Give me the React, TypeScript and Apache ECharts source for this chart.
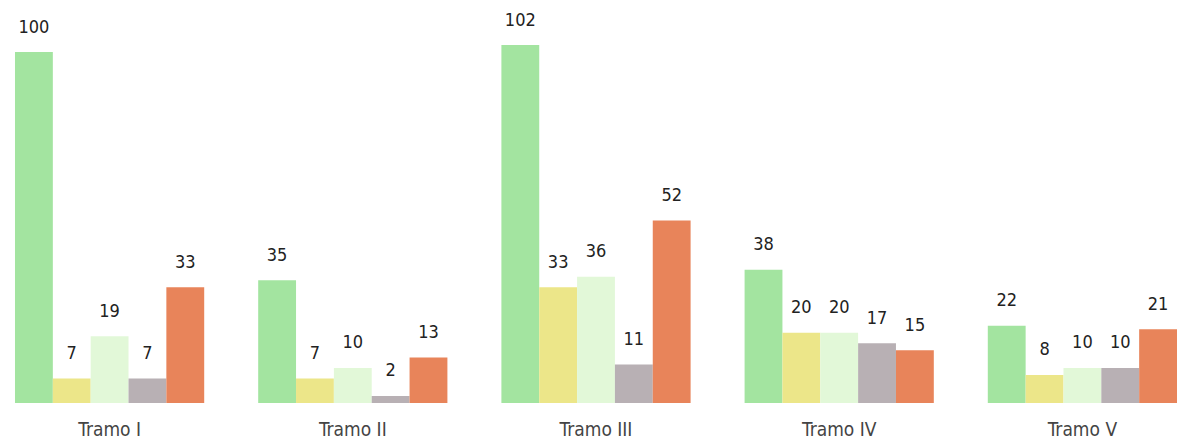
import React, { useEffect, useRef } from "react";
import * as echarts from "echarts";

const categories = ["Tramo I", "Tramo II", "Tramo III", "Tramo IV", "Tramo V"];
const seriesA = [100, 35, 102, 38, 22];
const seriesB = [7, 7, 33, 20, 8];
const seriesC = [19, 10, 36, 20, 10];
const seriesD = [7, 2, 11, 17, 10];
const seriesE = [33, 13, 52, 15, 21];
const colors = ["#a3e4a0", "#ece689", "#e2f8d8", "#b8b0b4", "#e8845a"];
const FONT = "'Liberation Sans Narrow', 'DejaVu Sans Condensed', 'DejaVu Sans', sans-serif";

export default function App() {
  const ref = useRef<HTMLDivElement>(null);
  useEffect(() => {
    if (!ref.current) return;
    const chart = echarts.init(ref.current, null, { renderer: "svg" });
    const all = [seriesA, seriesB, seriesC, seriesD, seriesE];
    chart.setOption({
      animation: false,
      grid: { left: 0, right: 0, top: 17, bottom: 40, containLabel: false },
      xAxis: {
        type: "category",
        data: categories,
        axisLine: { show: false },
        axisTick: { show: false },
        axisLabel: { color: "#444", fontSize: 19, fontFamily: FONT, margin: 16 },
      },
      yAxis: { type: "value", min: 0, max: 110, show: false },
      series: all.map((d, i) => ({
        type: "bar",
        data: d,
        barGap: "0%",
        barCategoryGap: "22.2%",
        itemStyle: { color: colors[i] },
        label: {
          show: true,
          position: "top",
          distance: 17,
          color: "#222",
          fontSize: 18,
          fontFamily: FONT,
        },
      })),
    });
    return () => chart.dispose();
  }, []);
  return (
    <div style={{ position: "absolute", left: 0, top: 0, width: 1179, height: 443, overflow: "hidden" }}>
      <div
        ref={ref}
        style={{ position: "absolute", left: -12, top: 0, width: 1216, height: 443 }}
      />
    </div>
  );
}
